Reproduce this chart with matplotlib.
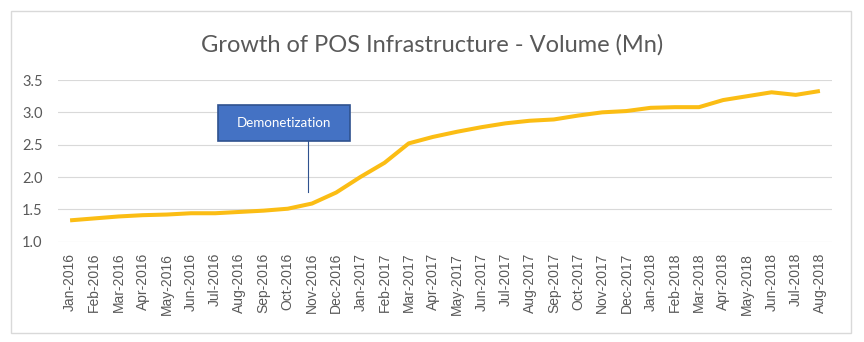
import matplotlib
matplotlib.use("Agg")
from matplotlib import pyplot as plt
from matplotlib.patches import Rectangle

months = ["Jan-2016", "Feb-2016", "Mar-2016", "Apr-2016", "May-2016", "Jun-2016",
          "Jul-2016", "Aug-2016", "Sep-2016", "Oct-2016", "Nov-2016", "Dec-2016",
          "Jan-2017", "Feb-2017", "Mar-2017", "Apr-2017", "May-2017", "Jun-2017",
          "Jul-2017", "Aug-2017", "Sep-2017", "Oct-2017", "Nov-2017", "Dec-2017",
          "Jan-2018", "Feb-2018", "Mar-2018", "Apr-2018", "May-2018", "Jun-2018",
          "Jul-2018", "Aug-2018"]
volume = [1.33, 1.36, 1.39, 1.41, 1.42, 1.44, 1.44, 1.46, 1.48, 1.51, 1.59, 1.76,
          2.00, 2.22, 2.52, 2.62, 2.70, 2.77, 2.83, 2.87, 2.89, 2.95, 3.00, 3.02,
          3.07, 3.08, 3.08, 3.19, 3.25, 3.31, 3.27, 3.33]
yticks = [1.0, 1.5, 2.0, 2.5, 3.0, 3.5]

fig = plt.figure(figsize=(8.64, 3.42), dpi=100)

# outer chart border
fig.patches.append(Rectangle((11 / 864, 1 - 333 / 342), 840 / 864, 322 / 342,
                             transform=fig.transFigure, fill=False,
                             edgecolor="#D9D9D9", linewidth=1))

ax = fig.add_axes([58 / 864, 1 - 241.7 / 342, 774 / 864, 161.7 / 342])
x = list(range(len(months)))
ax.plot(x, volume, color="#FBBD14", linewidth=2.9, solid_capstyle="butt", zorder=3)

ax.set_xlim(-0.5, len(months) - 0.5)
ax.set_ylim(1.0, 3.5)
ax.set_yticks(yticks)
ax.set_yticklabels(["%.1f" % v for v in yticks], family="Lato", fontsize=10.5, color="#595959")
ax.set_xticks(x)
ax.set_xticklabels(months, rotation=90, family="Liberation Sans", fontsize=10, color="#595959")
ax.tick_params(length=0)
ax.tick_params(axis="y", pad=11)
ax.tick_params(axis="x", pad=8)
ax.grid(axis="y", color="#D9D9D9", linewidth=0.8)
ax.set_axisbelow(True)
for s in ax.spines.values():
    s.set_visible(False)

fig.text(0.5, 1 - 45 / 342, "Growth of POS Infrastructure - Volume (Mn)", ha="center", va="center",
         family="Lato", fontsize=17, color="#595959")

# Demonetization callout
ax.add_patch(Rectangle((6.11, 2.557), 5.46, 0.556, facecolor="#4472C4", edgecolor="#2F528F",
                       linewidth=1.2, zorder=4, clip_on=False))
ax.text(6.11 + 2.73, 2.835, "Demonetization", ha="center", va="center", color="white",
        family="Lato", fontsize=9.6, zorder=5)
ax.plot([9.83, 9.83], [2.557, 1.776], color="#2F528F", linewidth=0.8, zorder=4)

plt.savefig("out.png", dpi=100)
